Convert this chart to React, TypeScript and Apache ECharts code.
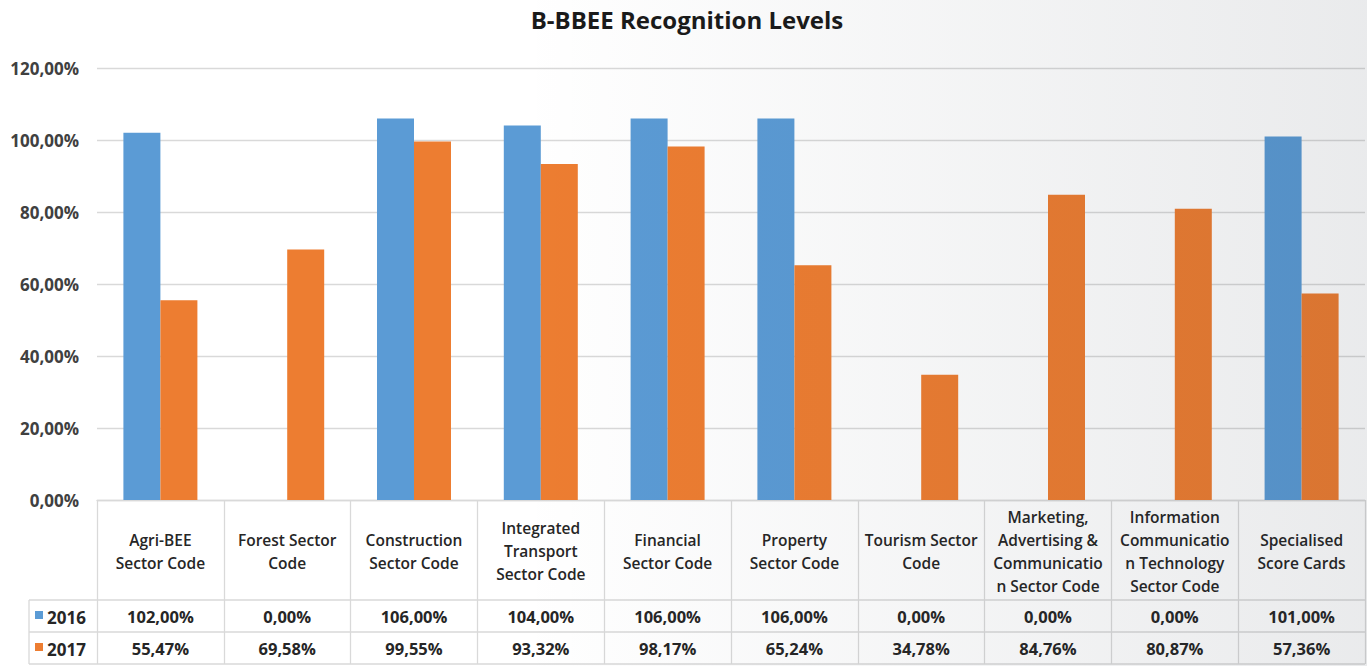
import React, { useEffect, useRef } from "react";
import * as echarts from "echarts";

const title = "B-BBEE Recognition Levels";
const categories = [
  "Agri-BEE\nSector Code",
  "Forest Sector\nCode",
  "Construction\nSector Code",
  "Integrated\nTransport\nSector Code",
  "Financial\nSector Code",
  "Property\nSector Code",
  "Tourism Sector\nCode",
  "Marketing,\nAdvertising &\nCommunicatio\nn Sector Code",
  "Information\nCommunicatio\nn Technology\nSector Code",
  "Specialised\nScore Cards",
];
const seriesNames = ["2016", "2017"];
const values2016 = [102, 0, 106, 104, 106, 106, 0, 0, 0, 101];
const values2017 = [55.47, 69.58, 99.55, 93.32, 98.17, 65.24, 34.78, 84.76, 80.87, 57.36];
const yMin = 0;
const yMax = 120;
const yInterval = 20;

const colors = ["#5b9bd5", "#ed7d31"];
const FONT = "'Open Sans', 'Liberation Sans', sans-serif";
const BORDER = "#d9d9d9";

const fmt = (v: number) => v.toFixed(2).replace(".", ",") + "%";

export default function App() {
  const ref = useRef<HTMLDivElement>(null);
  useEffect(() => {
    if (!ref.current) return;
    const chart = echarts.init(ref.current, undefined, { renderer: "svg" });
    const L = 97;
    const R = 1365;
    const top = 68;
    const bottomY = 500;
    const row1 = 600;
    const row2 = 632;
    const row3 = 664;
    const legendLeft = 29;

    const tableAxis = (values: number[], offset: number) => ({
      type: "category",
      gridIndex: 0,
      position: "bottom",
      offset,
      data: values.map(fmt),
      axisLine: { show: false },
      axisTick: { show: false },
      axisLabel: {
        interval: 0,
        margin: 16,
        verticalAlign: "middle",
        fontFamily: FONT,
        fontSize: 16.5,
        fontWeight: "bold",
        color: "#262626",
      },
      splitLine: { show: false },
    });

    const hLine = (y: number, x1: number) => ({
      type: "line",
      shape: { x1, y1: y, x2: R, y2: y },
      style: { stroke: BORDER, lineWidth: 1.3 },
      silent: true,
    });

    chart.setOption({
      animation: false,
      backgroundColor: "#ffffff",
      title: {
        text: title,
        left: 682,
        top: 2,
        textAlign: "center",
        textStyle: { fontFamily: FONT, fontSize: 24, fontWeight: "bold", color: "#1a1a1a" },
      },
      grid: { left: L, right: 1367 - R, top, bottom: 666 - bottomY, containLabel: false },
      xAxis: [
        {
          type: "category",
          data: categories,
          position: "bottom",
          axisLine: { show: true, lineStyle: { color: BORDER, width: 1.3 } },
          axisTick: { show: true, interval: 0, length: row3 - bottomY, lineStyle: { color: BORDER, width: 1.3 } },
          axisLabel: {
            interval: 0,
            margin: 51,
            verticalAlign: "middle",
            align: "center",
            lineHeight: 23,
            fontFamily: FONT,
            fontSize: 15.5,
            fontWeight: 600,
            color: "#262626",
          },
        },
        tableAxis(values2016, row1 - bottomY),
        tableAxis(values2017, row2 - bottomY),
      ],
      yAxis: {
        type: "value",
        min: yMin,
        max: yMax,
        interval: yInterval,
        axisLine: { show: false },
        axisTick: { show: false },
        axisLabel: {
          margin: 18,
          formatter: (v: number) => fmt(v),
          fontFamily: FONT,
          fontSize: 17,
          fontWeight: "bold",
          color: "#404040",
        },
        splitLine: { lineStyle: { color: BORDER, width: 1.3 } },
      },
      series: [
        {
          name: seriesNames[0],
          type: "bar",
          data: values2016,
          barWidth: 37,
          barGap: "0%",
          itemStyle: { color: colors[0] },
        },
        {
          name: seriesNames[1],
          type: "bar",
          data: values2017,
          barWidth: 37,
          barGap: "0%",
          itemStyle: { color: colors[1] },
        },
      ],
      graphic: [
        hLine(row1, legendLeft),
        hLine(row2, legendLeft),
        hLine(row3, legendLeft),
        {
          type: "line",
          shape: { x1: legendLeft, y1: row1, x2: legendLeft, y2: row3 },
          style: { stroke: BORDER, lineWidth: 1.3 },
          silent: true,
        },
        ...seriesNames.flatMap((name, i) => {
          const cy = (i === 0 ? row1 + row2 : row2 + row3) / 2;
          return [
            {
              type: "rect",
              shape: { x: 35, y: cy - 5, width: 8, height: 8 },
              style: { fill: colors[i] },
              silent: true,
            },
            {
              type: "text",
              x: 47,
              y: cy + 1,
              style: {
                text: name,
                fontFamily: FONT,
                fontSize: 17,
                fontWeight: "bold",
                fill: "#262626",
                textVerticalAlign: "middle",
              },
              silent: true,
            },
          ];
        }),
        {
          type: "rect",
          shape: { x: 0, y: 0, width: 1367, height: 666 },
          z: 100,
          silent: true,
          style: {
            fill: new echarts.graphic.LinearGradient(0, 0, 1, 0, [
              { offset: 0, color: "rgba(30,40,55,0)" },
              { offset: 0.38, color: "rgba(30,40,55,0)" },
              { offset: 1, color: "rgba(30,40,55,0.095)" },
            ]),
          },
        },
      ],
    });
    return () => chart.dispose();
  }, []);
  return <div ref={ref} style={{ position: "fixed", left: 0, top: 0, width: 1367, height: 666 }} />;
}
